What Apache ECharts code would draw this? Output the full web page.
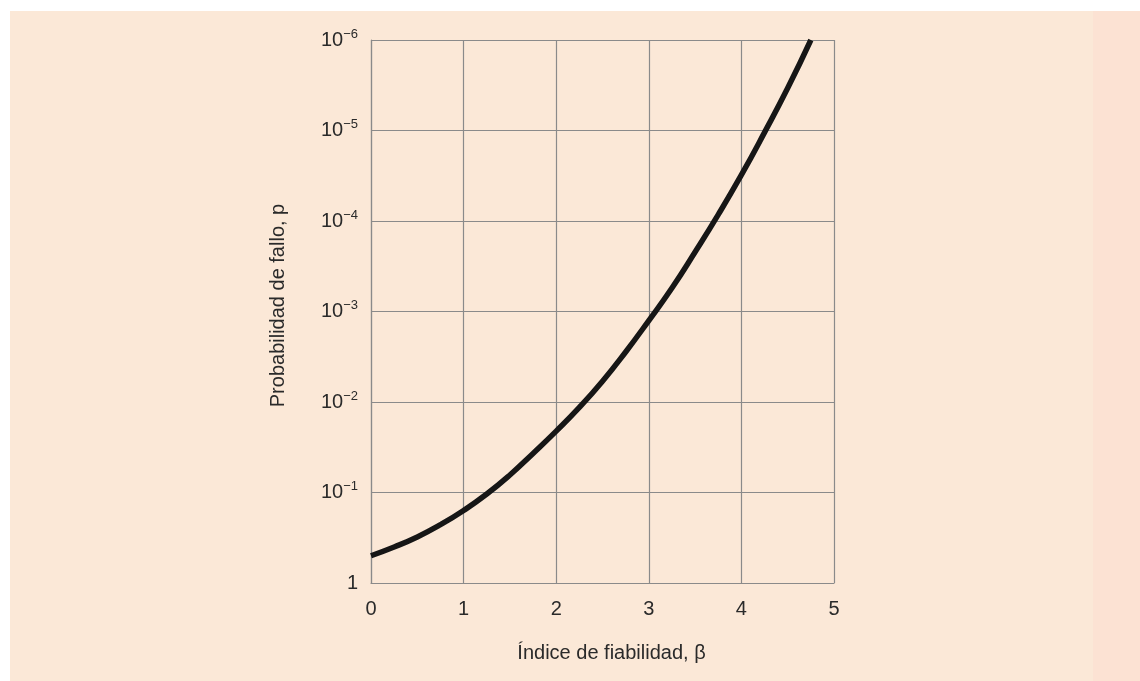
<!DOCTYPE html>
<html>
<head>
<meta charset="utf-8">
<script src="https://cdn.jsdelivr.net/npm/echarts@6/dist/echarts.min.js"></script>
<style>
    html, body { margin: 0; padding: 0; background: #fff; }
    #wrap { position: relative; width: 1140px; height: 681px; }
    .bg1 { position: absolute; left: 10px; top: 11px; width: 1083px; height: 670px; background: #fbe8d7; }
    .bg2 { position: absolute; left: 1093px; top: 11px; width: 47px; height: 670px; background: #fce2d3; }
    #main { position: absolute; left: 0; top: 0; width: 1140px; height: 681px; }
</style>
</head>
<body>
<div id="wrap">
    <div class="bg1"></div>
    <div class="bg2"></div>
    <div id="main"></div>
</div>
<script>
    // indice de fiabilidad (beta) y probabilidad de fallo
    var beta = [0, 0.25, 0.5, 0.75, 1, 1.25, 1.5, 1.75, 2, 2.25, 2.5, 2.75, 3, 3.25, 3.5, 3.75, 4, 4.25, 4.5, 4.75];
    var prob = [0.5, 0.40, 0.31, 0.227, 0.158, 0.104, 0.064, 0.037, 0.021, 0.0115, 0.0059, 0.0028, 0.00126, 5.5e-4, 2.2e-4, 8.5e-5, 3.1e-5, 1.05e-5, 3.4e-6, 1.0e-6];

    var points = beta.map(function (b, i) { return [b, prob[i]]; });

    var font = '"Liberation Sans", Arial, sans-serif';
    var myChart = echarts.init(document.getElementById('main'), null, { renderer: 'canvas' });

    var option = {
        backgroundColor: 'transparent',
        animation: false,
        grid: { left: 371, right: 306, top: 40, bottom: 98 },
        xAxis: {
            type: 'value',
            min: 0,
            max: 5,
            interval: 1,
            name: 'Índice de fiabilidad, β',
            nameLocation: 'middle',
            nameGap: 60,
            nameTextStyle: { fontFamily: font, fontSize: 20, color: '#2a2a2a', padding: [0, 0, 0, 18] },
            axisLine: { lineStyle: { color: '#8a8a8a', width: 1.2 } },
            axisTick: { show: false },
            axisLabel: { fontFamily: font, fontSize: 20, color: '#2a2a2a', margin: 16 },
            splitLine: { lineStyle: { color: '#8a8a8a', width: 1.2 } }
        },
        yAxis: {
            type: 'log',
            logBase: 10,
            min: 1e-6,
            max: 1,
            splitNumber: 6,
            inverse: true,
            name: 'Probabilidad de fallo, p',
            nameLocation: 'middle',
            nameGap: 83,
            nameTextStyle: { fontFamily: font, fontSize: 20, color: '#2a2a2a', padding: [0, 0, 0, 12] },
            axisLine: { show: true, lineStyle: { color: '#8a8a8a', width: 1.2 } },
            axisTick: { show: false },
            axisLabel: {
                margin: 13,
                formatter: function (v) {
                    var e = Math.round(Math.log10(v));
                    if (e === 0) return '{b|1}';
                    return '{b|10}{s|−' + (-e) + '}';
                },
                rich: {
                    b: { fontFamily: font, fontSize: 20, color: '#2a2a2a' },
                    s: { fontFamily: font, fontSize: 13, color: '#2a2a2a', verticalAlign: 'top', padding: [0, 0, 12, 0] }
                }
            },
            splitLine: { lineStyle: { color: '#8a8a8a', width: 1.2 } }
        },
        series: [
            {
                type: 'line',
                data: points,
                smooth: true,
                showSymbol: false,
                lineStyle: { color: '#161616', width: 5.5 }
            }
        ]
    };
    myChart.setOption(option);
</script>
</body>
</html>
